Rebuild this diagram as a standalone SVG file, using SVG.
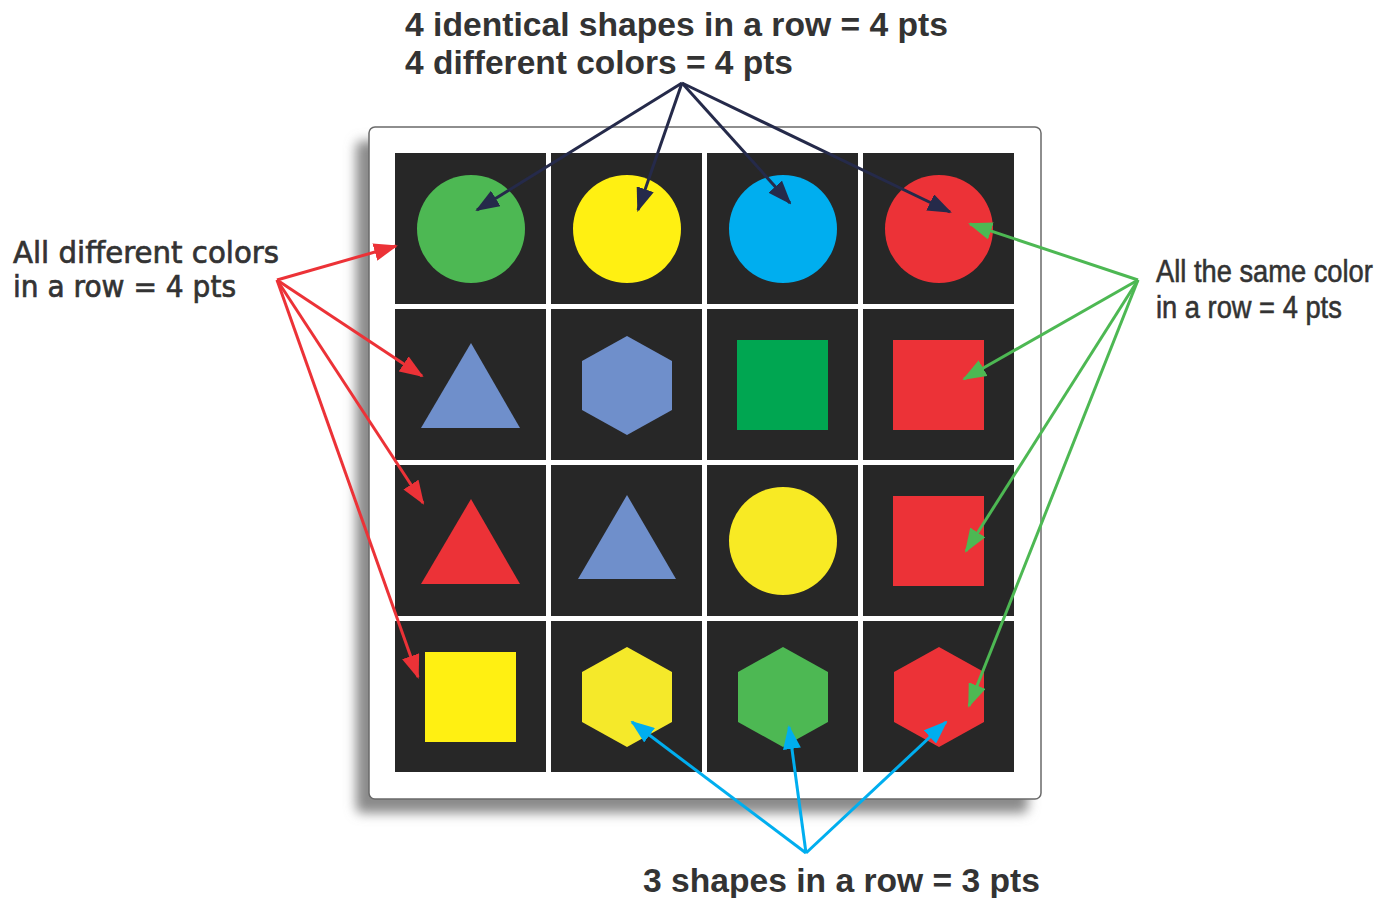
<svg xmlns="http://www.w3.org/2000/svg" width="1387" height="898" viewBox="0 0 1387 898">
<style>
.cell{fill:#272727;}
.t{fill:#333333;}
.bold{font-family:"Liberation Sans",Arial,sans-serif;font-weight:bold;font-size:33px;}
.comic{font-family:"Comic Sans MS","DejaVu Sans",sans-serif;font-size:30px;stroke:#333333;stroke-width:0.7;}
.narrow{font-family:"Liberation Sans",Arial,sans-serif;font-size:27.3px;stroke:#333333;stroke-width:0.5;}
.a{fill:none;stroke-width:3;}
.navy{stroke:#252a4a;}
.red{stroke:#ec3237;}
.grn{stroke:#4db853;}
.cyan{stroke:#00aeef;}
</style>
<defs>
<filter id="blur" x="-10%" y="-10%" width="120%" height="120%"><feGaussianBlur stdDeviation="6"/></filter>
<marker id="mNavy" markerUnits="userSpaceOnUse" markerWidth="24" markerHeight="18" refX="22" refY="9" orient="auto"><path d="M0,0 L24,9 L0,18 z" fill="#252a4a"/></marker>
<marker id="mRed" markerUnits="userSpaceOnUse" markerWidth="24" markerHeight="18" refX="22" refY="9" orient="auto"><path d="M0,0 L24,9 L0,18 z" fill="#ec3237"/></marker>
<marker id="mGrn" markerUnits="userSpaceOnUse" markerWidth="24" markerHeight="18" refX="22" refY="9" orient="auto"><path d="M0,0 L24,9 L0,18 z" fill="#4db853"/></marker>
<marker id="mCyan" markerUnits="userSpaceOnUse" markerWidth="24" markerHeight="18" refX="22" refY="9" orient="auto"><path d="M0,0 L24,9 L0,18 z" fill="#00aeef"/></marker>
</defs>
<rect width="1387" height="898" fill="#ffffff"/>

<g id="board">
<rect x="356" y="141" width="672" height="672" rx="6" fill="#8a8a8a" filter="url(#blur)"/>
<rect x="369" y="127" width="672" height="672" rx="6" fill="#ffffff" stroke="#6a6a6a" stroke-width="1.5"/>
</g>

<g id="cells">
<rect class="cell" x="395" y="153" width="151" height="151"/>
<rect class="cell" x="551" y="153" width="151" height="151"/>
<rect class="cell" x="707" y="153" width="151" height="151"/>
<rect class="cell" x="863" y="153" width="151" height="151"/>
<rect class="cell" x="395" y="309" width="151" height="151"/>
<rect class="cell" x="551" y="309" width="151" height="151"/>
<rect class="cell" x="707" y="309" width="151" height="151"/>
<rect class="cell" x="863" y="309" width="151" height="151"/>
<rect class="cell" x="395" y="465" width="151" height="151"/>
<rect class="cell" x="551" y="465" width="151" height="151"/>
<rect class="cell" x="707" y="465" width="151" height="151"/>
<rect class="cell" x="863" y="465" width="151" height="151"/>
<rect class="cell" x="395" y="621" width="151" height="151"/>
<rect class="cell" x="551" y="621" width="151" height="151"/>
<rect class="cell" x="707" y="621" width="151" height="151"/>
<rect class="cell" x="863" y="621" width="151" height="151"/>
</g>

<g id="shapes">
<circle cx="471" cy="229" r="54" fill="#4db853"/>
<circle cx="627" cy="229" r="54" fill="#fff012"/>
<circle cx="783" cy="229" r="54" fill="#00aeef"/>
<circle cx="939" cy="229" r="54" fill="#ec3237"/>
<polygon points="471,343 421,428 520,428" fill="#6f8fcb"/>
<polygon points="627,336 672,361 672,410 627,435 582,410 582,361" fill="#6f8fcb"/>
<rect x="737" y="340" width="91" height="90" fill="#00a651"/>
<rect x="893" y="340" width="91" height="90" fill="#ec3237"/>
<polygon points="471,499 421,584 520,584" fill="#ec3237"/>
<polygon points="627,495 578,579 676,579" fill="#6f8fcb"/>
<circle cx="783" cy="541" r="54" fill="#f8ea24"/>
<rect x="893" y="496" width="91" height="90" fill="#ec3237"/>
<rect x="425" y="652" width="91" height="90" fill="#fff012"/>
<polygon points="627,647 672,672 672,722 627,747 582,722 582,672" fill="#f5e92a"/>
<polygon points="783,647 828,672 828,722 783,747 738,722 738,672" fill="#4db853"/>
<polygon points="939,647 984,672 984,722 939,747 894,722 894,672" fill="#ec3237"/>
</g>

<g id="connectors">
<line class="a navy" x1="682" y1="83" x2="477" y2="210" marker-end="url(#mNavy)"/>
<line class="a navy" x1="682" y1="83" x2="638" y2="210" marker-end="url(#mNavy)"/>
<line class="a navy" x1="682" y1="83" x2="790" y2="203" marker-end="url(#mNavy)"/>
<line class="a navy" x1="682" y1="83" x2="950" y2="212" marker-end="url(#mNavy)"/>
<line class="a red" x1="277" y1="280" x2="396" y2="246" marker-end="url(#mRed)"/>
<line class="a red" x1="277" y1="280" x2="422" y2="376" marker-end="url(#mRed)"/>
<line class="a red" x1="277" y1="280" x2="423" y2="503" marker-end="url(#mRed)"/>
<line class="a red" x1="277" y1="280" x2="418" y2="677" marker-end="url(#mRed)"/>
<line class="a grn" x1="1138" y1="280" x2="970" y2="224" marker-end="url(#mGrn)"/>
<line class="a grn" x1="1138" y1="280" x2="964" y2="379" marker-end="url(#mGrn)"/>
<line class="a grn" x1="1138" y1="280" x2="966" y2="551" marker-end="url(#mGrn)"/>
<line class="a grn" x1="1138" y1="280" x2="969" y2="706" marker-end="url(#mGrn)"/>
<line class="a cyan" x1="806" y1="853" x2="632" y2="722" marker-end="url(#mCyan)"/>
<line class="a cyan" x1="806" y1="853" x2="789" y2="727" marker-end="url(#mCyan)"/>
<line class="a cyan" x1="806" y1="853" x2="946" y2="722" marker-end="url(#mCyan)"/>
</g>

<g id="label-top">
<text class="t bold" x="405" y="36" textLength="543" lengthAdjust="spacingAndGlyphs">4 identical shapes in a row = 4 pts</text>
<text class="t bold" x="405" y="74" textLength="388" lengthAdjust="spacingAndGlyphs">4 different colors = 4 pts</text>
</g>
<g id="label-left">
<text class="t comic" x="13" y="263" textLength="266" lengthAdjust="spacingAndGlyphs">All different colors</text>
<text class="t comic" x="13" y="297" textLength="223" lengthAdjust="spacingAndGlyphs">in a row = 4 pts</text>
</g>
<g id="label-right">
<text class="t narrow" transform="translate(1156,282) scale(1,1.18)">All the same color</text>
<text class="t narrow" transform="translate(1156,318) scale(1,1.18)">in a row = 4 pts</text>
</g>
<g id="label-bottom">
<text class="t bold" x="643" y="892" textLength="397" lengthAdjust="spacingAndGlyphs">3 shapes in a row = 3 pts</text>
</g>
</svg>
